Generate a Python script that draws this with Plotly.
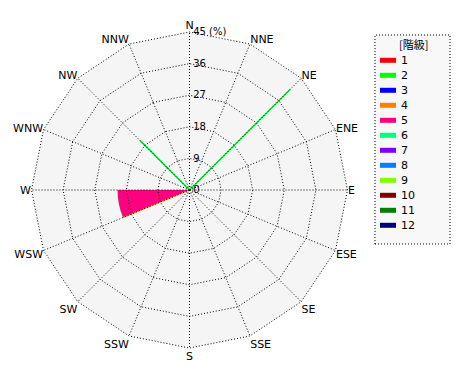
import plotly.graph_objects as go

# ---- data ----
directions = ["N", "NNE", "NE", "ENE", "E", "ESE", "SE", "SSE",
              "S", "SSW", "SW", "WSW", "W", "WNW", "NW", "NNW"]
radial_ticks = [0, 9, 18, 27, 36, 45]
radial_ticktext = ["0", "9", "18", "27", "36", "45 (%)"]
classes = ["1", "2", "3", "4", "5", "6", "7", "8", "9", "10", "11", "12"]
class_colors = ["#ff0000", "#00ff00", "#0000ff", "#ff8000", "#ff0080", "#00ff80",
                "#8000ff", "#0080ff", "#80ff00", "#800000", "#008000", "#000080"]

# sector (class 5) between W and WSW
sector_theta = [258.75]
sector_width = [22.5]
sector_r = [20.5]

# thin lines (classes 2 and 6) toward NE and NW
line_theta = [45, 315]
line_r = [40.6, 20.0]

# thin edge (class 4) along WSW
edge_theta = [247.5]
edge_r = [20.5]

RTOP = 45
RMAX = 46
CX, CY, R45 = 189.5, 190, 158.0
R = R45 * RMAX / RTOP
W, H = 470, 380
dom_x = [(CX - R) / W, (CX + R) / W]
dom_y = [(H - CY - R) / H, (H - CY + R) / H]
bg_x = [(CX - R45) / W, (CX + R45) / W]
bg_y = [(H - CY - R45) / H, (H - CY + R45) / H]
FONT = "DejaVu Sans"
DOT = "1px,2px"

fig = go.Figure()

# data traces on polar2 (linear angular axis)
fig.add_trace(go.Barpolar(r=sector_r, theta=sector_theta, width=sector_width,
                          marker=dict(color=class_colors[4], line=dict(width=0)),
                          subplot="polar2", showlegend=False))
fig.add_trace(go.Scatterpolar(r=[0, edge_r[0]], theta=[edge_theta[0]] * 2, mode="lines",
                              line=dict(color=class_colors[3], width=1),
                              subplot="polar2", showlegend=False))
for t, v in zip(line_theta, line_r):
    fig.add_trace(go.Scatterpolar(r=[0, v], theta=[t, t], mode="lines",
                                  line=dict(color=class_colors[1], width=1.5),
                                  subplot="polar2", showlegend=False))
    fig.add_trace(go.Scatterpolar(r=[0, v], theta=[t, t], mode="lines",
                                  line=dict(color=class_colors[5], width=1.5, dash="1px,1px"),
                                  subplot="polar2", showlegend=False))

# dummy traces so the background and grid subplots exist
fig.add_trace(go.Scatterpolar(r=[None], theta=[directions[0]], subplot="polar", showlegend=False))
fig.add_trace(go.Scatterpolar(r=[None], theta=[directions[0]], subplot="polar3", showlegend=False))
fig.add_trace(go.Scatterpolar(r=[None], theta=[directions[0]], subplot="polar4", showlegend=False))

common_ang = dict(direction="clockwise", rotation=90)

fig.update_layout(
    width=W, height=H,
    margin=dict(l=0, r=0, t=0, b=0),
    paper_bgcolor="white",
    showlegend=False,
    polar=dict(
        domain=dict(x=bg_x, y=bg_y),
        bgcolor="#f5f5f5",
        gridshape="linear",
        angularaxis=dict(type="category", categoryarray=directions, **common_ang,
                         showgrid=False, showline=False, showticklabels=False, ticks=""),
        radialaxis=dict(range=[0, RTOP], visible=False),
    ),
    polar2=dict(
        domain=dict(x=dom_x, y=dom_y),
        bgcolor="rgba(0,0,0,0)",
        angularaxis=dict(**common_ang, visible=False),
        radialaxis=dict(range=[0, RMAX], visible=False),
    ),
    polar3=dict(
        domain=dict(x=dom_x, y=dom_y),
        bgcolor="rgba(0,0,0,0)",
        gridshape="linear",
        angularaxis=dict(type="category", categoryarray=directions, **common_ang,
                         showgrid=False, showline=False, showticklabels=False, ticks=""),
        radialaxis=dict(range=[0, RMAX], tickvals=radial_ticks,
                        ticktext=["\u00a0" + t for t in radial_ticktext],
                        showgrid=True, gridcolor="black", griddash=DOT, gridwidth=1,
                        showline=False, ticks="", angle=90, tickangle=90,
                        side="clockwise",
                        tickfont=dict(family=FONT, size=10, color="black")),
    ),
    polar4=dict(
        domain=dict(x=bg_x, y=bg_y),
        bgcolor="rgba(0,0,0,0)",
        gridshape="linear",
        angularaxis=dict(type="category", categoryarray=directions, **common_ang,
                         showgrid=True, gridcolor="black", griddash=DOT, gridwidth=1,
                         showline=False, ticks="",
                         tickfont=dict(family=FONT, size=11, color="black")),
        radialaxis=dict(range=[0, RTOP], visible=False),
    ),
)

# ---- manual legend ----
lx0, lx1, ly0, ly1 = 375, 450, 35, 244
def px(x): return x / W
def py(y): return 1 - y / H

fig.add_shape(type="rect", xref="paper", yref="paper",
              x0=px(lx0), x1=px(lx1), y0=py(ly1), y1=py(ly0),
              fillcolor="#f8f8f8", line=dict(color="black", width=1, dash="1px,2px"), layer="below")
fig.add_annotation(x=px(413), y=py(44), xref="paper", yref="paper", text="[階級]",
                   showarrow=False, font=dict(family="Noto Sans CJK JP", size=11, color="black"),
                   xanchor="center", yanchor="middle")
for i, (c, col) in enumerate(zip(classes, class_colors)):
    yc = 60.3 + 15 * i
    fig.add_shape(type="rect", xref="paper", yref="paper",
                  x0=px(380), x1=px(396), y0=py(yc + 2.5), y1=py(yc - 2.5),
                  fillcolor=col, line=dict(width=0))
    fig.add_annotation(x=px(399), y=py(yc), xref="paper", yref="paper", text=c,
                       showarrow=False, font=dict(family=FONT, size=11, color="black"),
                       xanchor="left", yanchor="middle")

fig.write_html("out.html")
